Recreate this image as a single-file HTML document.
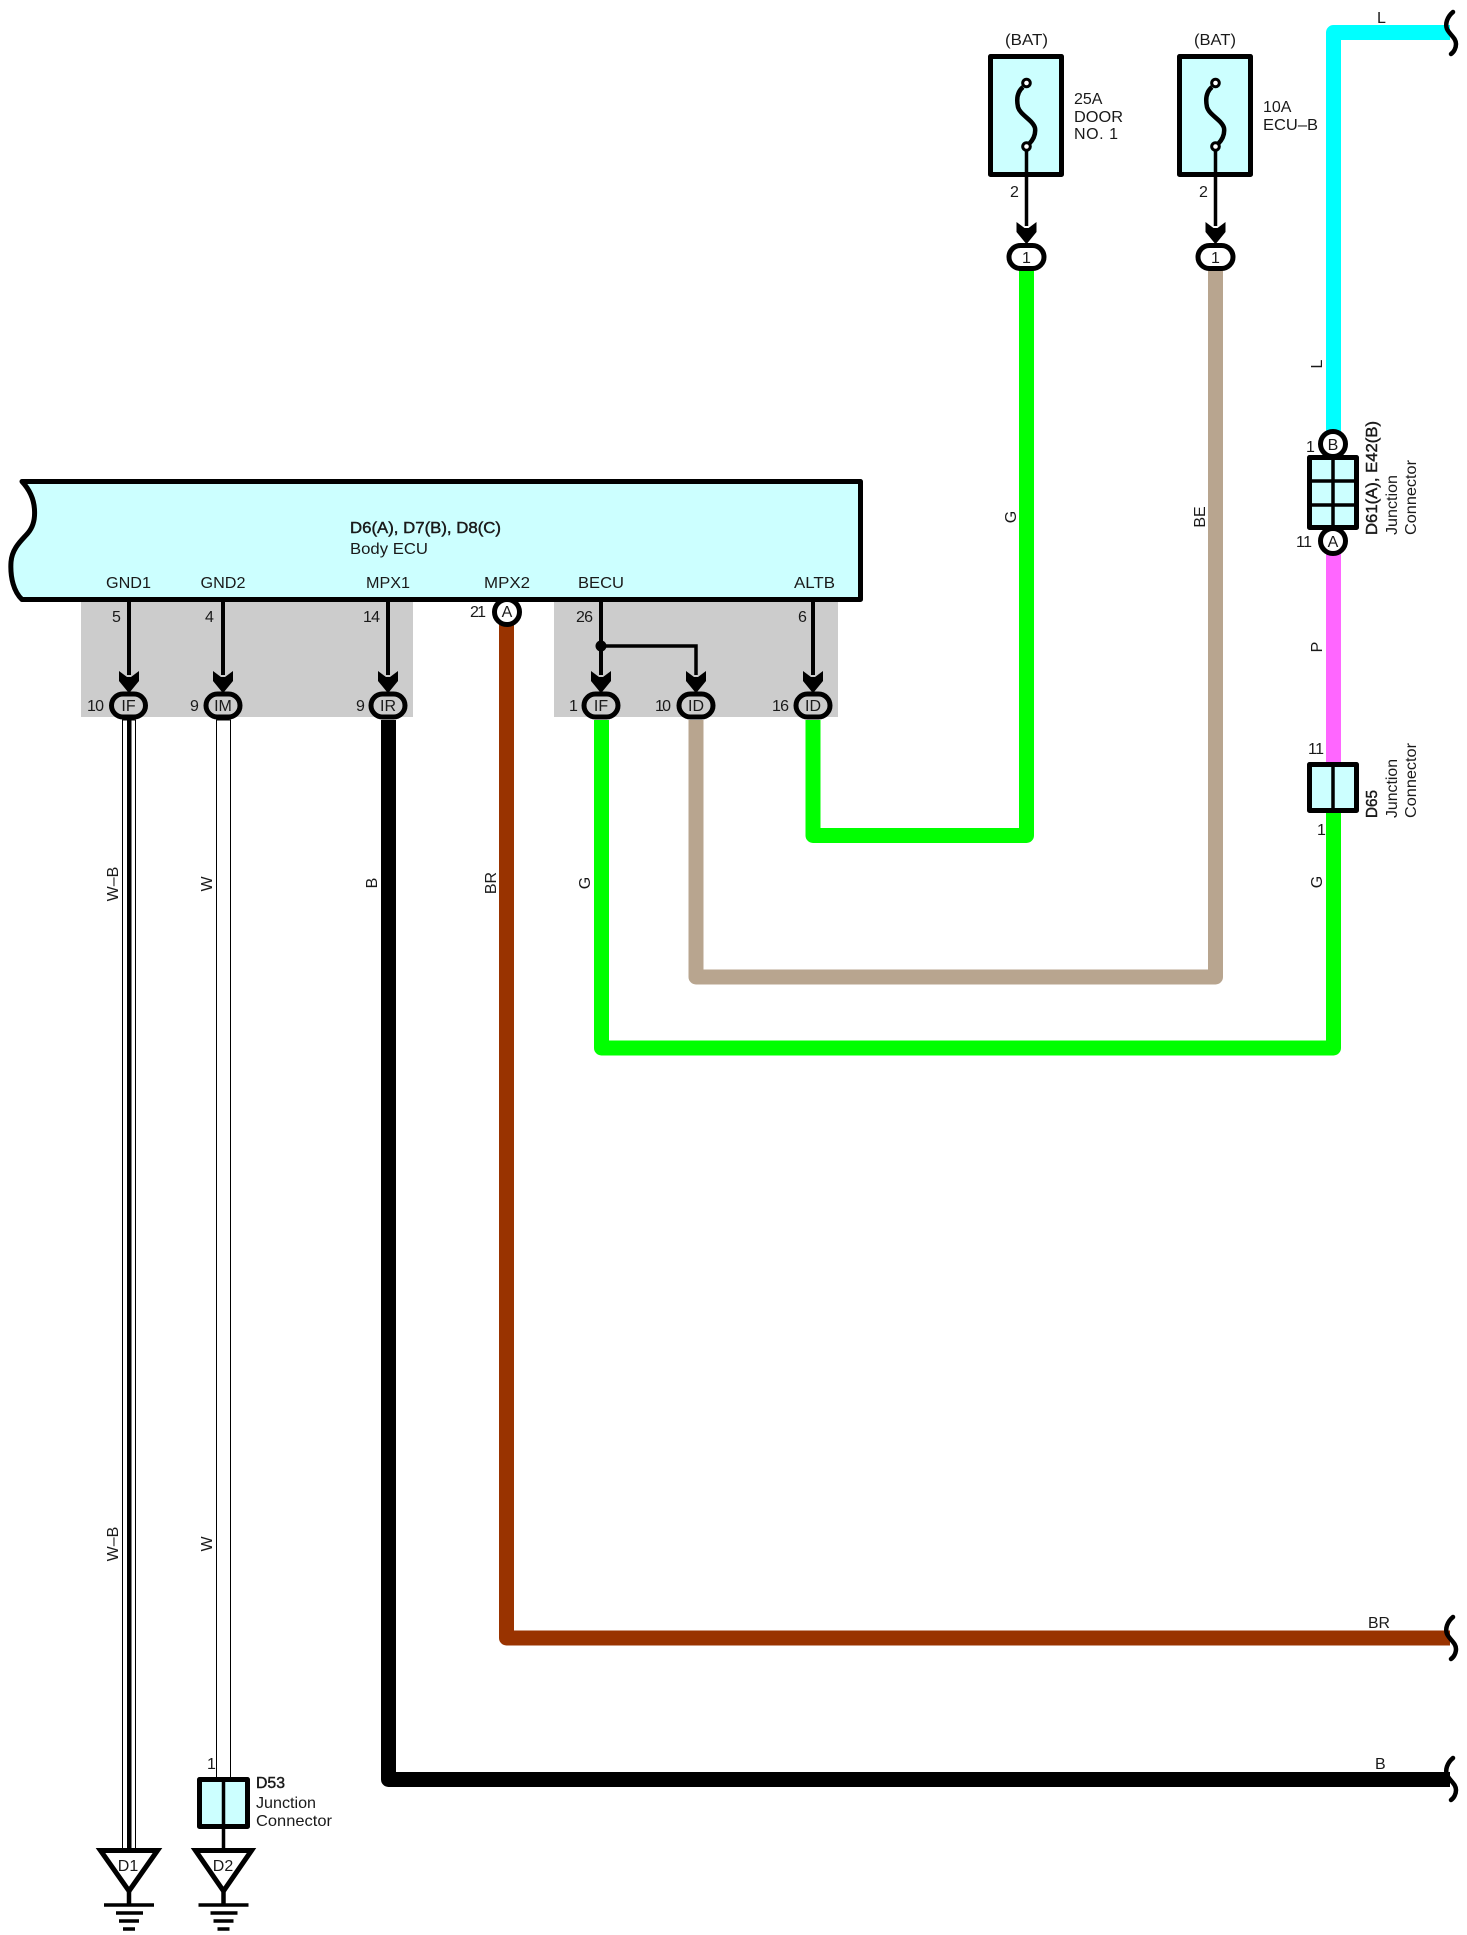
<!DOCTYPE html>
<html><head><meta charset="utf-8"><title>Wiring diagram</title>
<style>
html,body{margin:0;padding:0;background:#fff}
svg{display:block}
text{font-family:"Liberation Sans",sans-serif;font-size:16px;fill:#1a1a1a}
.b{stroke:#1a1a1a;stroke-width:.45px}
.m{text-anchor:middle}
.w{fill:none;stroke-width:15;stroke-linejoin:round;stroke-linecap:butt}
.k{stroke:#000;fill:none}
</style></head><body>
<svg width="1467" height="1935" viewBox="0 0 1467 1935" xmlns="http://www.w3.org/2000/svg">
<defs>
<polygon id="h" points="-10,0 -2,6 2,6 10,0 10,10 1,21 -1,21 -10,10" fill="#000"/>
</defs>
<rect width="1467" height="1935" fill="#fff"/>
<rect x="81" y="602" width="332" height="115" fill="#ccc"/>
<rect x="554" y="602" width="284" height="115" fill="#ccc"/>

<!-- ECU -->
<path d="M22 481.500 H860.500 V599.500 H22 C14 592 10 578 11 562 C12 548 22 540 28 533 C34 526 35 518 34.500 510 C34 498 28 488 22 481.500 Z" fill="#ccffff" stroke="#000" stroke-width="5" stroke-linejoin="round"/>

<!-- thick wires -->
<g class="w">
<path d="M388.500 720 V1779.500 H1450" stroke="#000"/>
<path d="M506.500 624 V1638 H1450" stroke="#993300"/>
<path d="M601.500 720 V1048 H1333.500 V810" stroke="#00ff00"/>
<path d="M696 720 V977 H1215.500 V270" stroke="#b8a58f"/>
<path d="M813 720 V835.500 H1026.500 V270" stroke="#00ff00"/>
<path d="M1333.500 435 V32.500 H1450" stroke="#00ffff"/>
<path d="M1333.500 548 V765" stroke="#ff66ff"/>
</g>

<!-- W-B wire -->
<rect x="122.500" y="720" width="13" height="1129" fill="#fff" stroke="#000" stroke-width="1"/>
<rect x="127" y="720" width="4.500" height="1129" fill="#000"/>
<!-- W wire -->
<rect x="216.500" y="720" width="14" height="1058" fill="#fff" stroke="#000" stroke-width="1"/>

<!-- pin lines -->
<g class="k" stroke-width="4">
<path d="M129 600 V675 M223 600 V675 M388 600 V675 M601 600 V675 M813 600 V675"/>
<path d="M601 646 H696 V675" stroke-width="3.500"/>
</g>
<circle cx="601" cy="646" r="5.500" fill="#000"/>
<use href="#h" x="129" y="671"/><use href="#h" x="223" y="671"/><use href="#h" x="388" y="671"/>
<use href="#h" x="601" y="671"/><use href="#h" x="696" y="671"/><use href="#h" x="813" y="671"/>
<use href="#h" x="1026.500" y="222"/><use href="#h" x="1215.500" y="222"/>

<!-- ovals -->
<g fill="#ccc" stroke="#000" stroke-width="5">
<rect x="111.500" y="694" width="34" height="23" rx="11.500"/>
<rect x="206" y="694" width="34" height="23" rx="11.500"/>
<rect x="371" y="694" width="34" height="23" rx="11.500"/>
<rect x="584" y="694" width="34" height="23" rx="11.500"/>
<rect x="679" y="694" width="34" height="23" rx="11.500"/>
<rect x="796" y="694" width="34" height="23" rx="11.500"/>
<rect x="1009" y="245.500" width="35" height="23" rx="11.500" fill="#fff"/>
<rect x="1198" y="245.500" width="35" height="23" rx="11.500" fill="#fff"/>
<circle cx="507" cy="612" r="12.500" fill="#fff"/>
</g>

<!-- fuses -->
<g fill="#ccffff" stroke="#000" stroke-width="5" stroke-linejoin="round">
<rect x="990.500" y="56.500" width="71" height="118"/>
<rect x="1179.500" y="56.500" width="71" height="118"/>
</g>
<g fill="none" stroke="#000" stroke-width="4.500">
<path d="M1023 87 C1017 92 1016.500 100 1018 107 C1020 115 1033 120 1035 128 C1036 135 1033 140 1029 144"/>
<path d="M1212 87 C1206 92 1205.500 100 1207 107 C1209 115 1222 120 1224 128 C1225 135 1222 140 1218 144"/>
</g>
<path d="M1026.500 146 V226 M1215.500 146 V226" stroke="#000" stroke-width="3.500" fill="none"/>
<g fill="#fff" stroke="#000" stroke-width="3">
<circle cx="1026.500" cy="83" r="3.800"/><circle cx="1026.500" cy="146.500" r="3.800"/>
<circle cx="1215.500" cy="83" r="3.800"/><circle cx="1215.500" cy="146.500" r="3.800"/>
</g>

<!-- junction connectors -->
<g fill="#ccffff" stroke="#000" stroke-width="5" stroke-linejoin="round">
<rect x="1309.500" y="457.500" width="47" height="70"/>
<rect x="1309.500" y="764.500" width="47" height="46"/>
<rect x="199.500" y="1779.500" width="48" height="47"/>
</g>
<g fill="#fff" stroke="#000" stroke-width="5">
<circle cx="1333" cy="444" r="12.500"/><circle cx="1333" cy="541" r="12.500"/>
</g>
<path d="M1333 457 V528 M1310 481 H1356 M1310 505 H1356 M1333 765 V811 M223.500 1779 V1848" stroke="#000" stroke-width="3.500" fill="none"/>

<!-- wavy breaks -->
<g fill="none" stroke="#000" stroke-width="4.500" stroke-linecap="round">
<path d="M1453 12 C1447 17 1445 24 1447 29 C1450 35 1456 38 1456 44 C1456 48 1454 52 1451 54"/>
<path d="M1453 1617 C1447 1622 1445 1629 1447 1634 C1450 1640 1456 1643 1456 1649 C1456 1653 1454 1657 1451 1659"/>
<path d="M1453 1758 C1447 1763 1445 1770 1447 1775 C1450 1781 1456 1784 1456 1790 C1456 1794 1454 1798 1451 1800"/>
</g>

<!-- grounds -->
<g fill="#fff" stroke="#000" stroke-width="5" stroke-linejoin="miter">
<polygon points="100.500,1850.500 157.500,1850.500 129,1891"/>
<polygon points="195.500,1850.500 251.500,1850.500 223.500,1891"/>
</g>
<g stroke="#000" stroke-width="3.500" fill="none">
<path d="M129 1848 V1853" stroke-width="4.500"/>
<path d="M223.500 1848 V1853" stroke-width="3.500"/>
<path d="M129 1892 V1905 M223.500 1892 V1905" stroke-width="4.500"/>
<path d="M104 1905 H154 M116 1913 H143 M119 1921 H139 M123 1929 H135"/>
<path d="M198.500 1905 H248.500 M210.500 1913 H237.500 M213.500 1921 H233.500 M217.500 1929 H229.500"/>
</g>

<!-- ECU text -->
<text class="b" x="350" y="533" textLength="151" lengthAdjust="spacingAndGlyphs">D6(A), D7(B), D8(C)</text>
<text x="350" y="554" textLength="78" lengthAdjust="spacingAndGlyphs">Body ECU</text>
<text x="106" y="588" textLength="45" lengthAdjust="spacingAndGlyphs">GND1</text>
<text x="200.500" y="588" textLength="45" lengthAdjust="spacingAndGlyphs">GND2</text>
<text x="366" y="588" textLength="44" lengthAdjust="spacingAndGlyphs">MPX1</text>
<text x="484" y="588" textLength="46" lengthAdjust="spacingAndGlyphs">MPX2</text>
<text x="578" y="588" textLength="46" lengthAdjust="spacingAndGlyphs">BECU</text>
<text x="794" y="588" textLength="41" lengthAdjust="spacingAndGlyphs">ALTB</text>

<!-- pin numbers -->
<text x="112" y="622">5</text><text x="205" y="622">4</text>
<text x="363" y="622" textLength="17">14</text>
<text x="470" y="617" textLength="16">21</text>
<text x="576" y="622" textLength="17">26</text><text x="798" y="622">6</text>
<text x="87" y="711" textLength="17">10</text><text x="190" y="711">9</text><text x="356" y="711">9</text>
<text x="569" y="711">1</text><text x="655" y="711" textLength="16">10</text><text x="772" y="711" textLength="17">16</text>
<text class="m" x="128.500" y="711">IF</text><text class="m" x="223" y="711">IM</text><text class="m" x="388" y="711">IR</text>
<text class="m" x="601" y="711">IF</text><text class="m" x="696" y="711">ID</text><text class="m" x="813" y="711">ID</text>
<text class="m" x="507" y="617">A</text>

<!-- fuse text -->
<text x="1005" y="45" textLength="43" lengthAdjust="spacingAndGlyphs">(BAT)</text>
<text x="1194" y="45" textLength="42" lengthAdjust="spacingAndGlyphs">(BAT)</text>
<text x="1074" y="104">25A</text>
<text x="1074" y="122" textLength="49" lengthAdjust="spacingAndGlyphs">DOOR</text>
<text x="1074" y="139" textLength="44">NO. 1</text>
<text x="1263" y="112">10A</text>
<text x="1263" y="130" textLength="55" lengthAdjust="spacingAndGlyphs">ECU–B</text>
<text x="1010" y="197">2</text><text x="1199" y="197">2</text>
<text class="m" x="1026.500" y="263">1</text><text class="m" x="1215.500" y="263">1</text>

<!-- connector text -->
<text class="m" x="1333" y="450">B</text><text class="m" x="1333" y="547">A</text>
<text x="1306" y="452">1</text><text x="1296" y="547" textLength="16">11</text>
<text x="1308" y="754" textLength="16">11</text><text x="1317" y="835">1</text>
<text class="b" transform="translate(1377 535) rotate(-90)" textLength="114" lengthAdjust="spacingAndGlyphs">D61(A), E42(B)</text>
<text transform="translate(1397 535) rotate(-90)" textLength="60" lengthAdjust="spacingAndGlyphs">Junction</text>
<text transform="translate(1416 535) rotate(-90)" textLength="75" lengthAdjust="spacingAndGlyphs">Connector</text>
<text class="b" transform="translate(1377 818) rotate(-90)" textLength="28" lengthAdjust="spacingAndGlyphs">D65</text>
<text transform="translate(1397 818) rotate(-90)" textLength="59" lengthAdjust="spacingAndGlyphs">Junction</text>
<text transform="translate(1416 818) rotate(-90)" textLength="75" lengthAdjust="spacingAndGlyphs">Connector</text>
<text class="b" x="256" y="1788" textLength="29" lengthAdjust="spacingAndGlyphs">D53</text>
<text x="256" y="1808" textLength="60" lengthAdjust="spacingAndGlyphs">Junction</text>
<text x="256" y="1826" textLength="76" lengthAdjust="spacingAndGlyphs">Connector</text>
<text x="207" y="1769">1</text>
<text class="m" x="128" y="1871">D1</text><text class="m" x="223" y="1871">D2</text>

<!-- wire labels -->
<text x="1377" y="23">L</text>
<text x="1368" y="1628" textLength="22" lengthAdjust="spacingAndGlyphs">BR</text>
<text x="1375" y="1769">B</text>
<g class="m">
<text class="m" transform="translate(1016 517) rotate(-90)">G</text>
<text class="m" transform="translate(1205 517) rotate(-90)">BE</text>
<text class="m" transform="translate(1322 364) rotate(-90)">L</text>
<text class="m" transform="translate(1322 647) rotate(-90)">P</text>
<text class="m" transform="translate(1322 882) rotate(-90)">G</text>
<text class="m" transform="translate(118 884) rotate(-90)">W–B</text>
<text class="m" transform="translate(118 1544) rotate(-90)">W–B</text>
<text class="m" transform="translate(212 884) rotate(-90)">W</text>
<text class="m" transform="translate(212 1544) rotate(-90)">W</text>
<text class="m" transform="translate(377 883) rotate(-90)">B</text>
<text class="m" transform="translate(496 883) rotate(-90)">BR</text>
<text class="m" transform="translate(590 883) rotate(-90)">G</text>
</g>
</svg>
</body></html>
